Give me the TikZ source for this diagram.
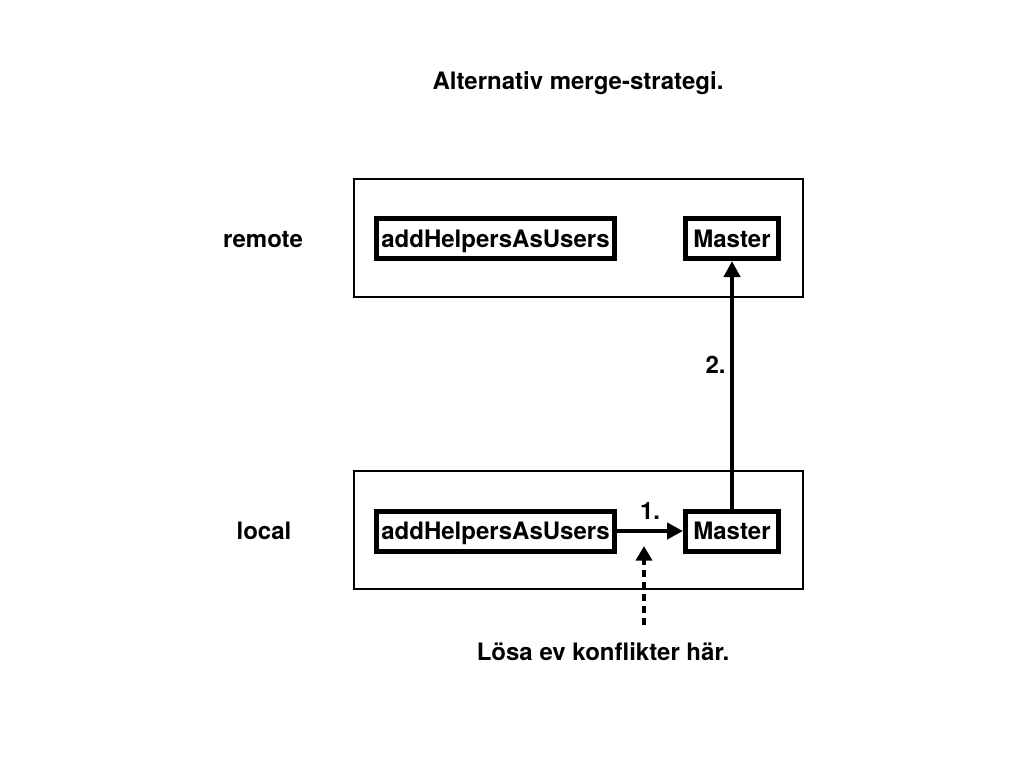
\documentclass[tikz,border=0pt]{standalone}
\usepackage{fontspec}
\setmainfont{TeX Gyre Heros}
\usetikzlibrary{positioning,arrows.meta}

\begin{document}
\begin{tikzpicture} [
        x=0.75pt, y=-0.75pt,
        every node/.style={
            font=\fontsize{18}{21}\selectfont\bfseries
        },
        areabox/.style={
            rectangle,
            draw,
            line width=1.5pt,
            minimum width=336.75pt,
            minimum height=88.5pt
        },
        branchnode/.style={
            rectangle,
            draw,
            line width=3.75pt,
            inner xsep=3.75pt,
            text height=12.9pt,
            text depth=0pt,
            minimum height=30pt
        },
        mergearrow/.style={
            line width=3pt,
            -{Triangle[length=12pt,width=12pt]}
        },
        hintarrow/.style={
            line width=3pt,
            dash pattern=on 5pt off 4pt,
            -{Triangle[length=11pt,width=12pt]}
        }
    ]

        \useasboundingbox (0,0) rectangle (1024,768);

        \node (title) at (578,83) {Alternativ merge-strategi.};

        \node[areabox] (remote) at (578.5,238)   {};
        \node[areabox] (local)  at (578.5,529.5) {};

        \node (remotelabel) at (263,240) {remote};
        \node (locallabel)  at (264,531) {local};

        \node[branchnode] (rhelp)   at (495.5,238.5) {addHelpersAsUsers};
        \node[branchnode, minimum width=69.75pt] (rmaster) at (732,238.5) {Master};
        \node[branchnode] (lhelp)   at (495.5,531)   {addHelpersAsUsers};
        \node[branchnode, minimum width=69.75pt] (lmaster) at (732,531)   {Master};

        \draw[mergearrow] (lhelp) -- node[above=4pt] (step1) {1.} (lmaster);
        \draw[mergearrow] (lmaster) -- node[pos=0.58, left] (step2) {2.} (rmaster);

        \coordinate (hintstart) at (644,625);
        \coordinate (hinttip)   at (644,546);
        \draw[hintarrow] (hintstart) -- (hinttip);

        \node (note) at (603,652) {Lösa ev konflikter här.};

    \end{tikzpicture}
\end{document}
